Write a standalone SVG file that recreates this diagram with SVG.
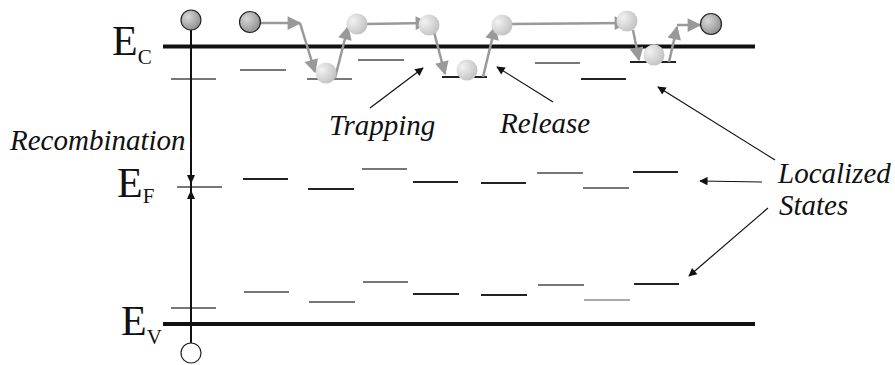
<svg xmlns="http://www.w3.org/2000/svg" width="895" height="365" viewBox="0 0 895 365">
<defs>
<radialGradient id="dark" cx="0.35" cy="0.35" r="0.75">
<stop offset="0" stop-color="#d8d8d8"/>
<stop offset="1" stop-color="#8a8a8a"/>
</radialGradient>
<radialGradient id="light" cx="0.3" cy="0.35" r="0.8">
<stop offset="0" stop-color="#f2f2f2"/>
<stop offset="1" stop-color="#bdbdbd"/>
</radialGradient>
<marker id="ga" viewBox="0 0 10 10" refX="9" refY="5" markerWidth="6" markerHeight="5.5" markerUnits="strokeWidth" orient="auto">
<path d="M0,0 L10,5 L0,10 z" fill="#999"/>
</marker>
<marker id="ka" viewBox="0 0 10 10" refX="9" refY="5" markerWidth="9" markerHeight="7" markerUnits="strokeWidth" orient="auto">
<path d="M0,0 L10,5 L0,10 z" fill="#111"/>
</marker>
</defs>
<style>
.band{stroke:#111;stroke-width:4}
.lv{stroke:#777;stroke-width:2}
.lk{stroke:#222;stroke-width:2}
.path{stroke:#999;stroke-width:2.5;fill:none;marker-end:url(#ga)}
.ptr{stroke:#111;stroke-width:1.2;fill:none;marker-end:url(#ka)}
.lbl{font-family:"Liberation Serif","Times New Roman",serif;font-style:italic;font-size:29px;fill:#111}
.E{font-family:"Liberation Serif","Times New Roman",serif;font-size:42px;fill:#111}
.sub{font-family:"Liberation Serif","Times New Roman",serif;font-size:21px;fill:#111}
.dk{fill:url(#dark);stroke:#222;stroke-width:1.2}
.lt{fill:url(#light)}
</style>
<g id="bands">
<line class="band" x1="163" y1="46.5" x2="755" y2="46.5"/>
<line class="band" x1="163" y1="324" x2="755" y2="324"/>
<text class="E" x="112" y="55">E<tspan class="sub" dy="9">C</tspan></text>
<text class="E" x="117" y="197">E<tspan class="sub" dy="6">F</tspan></text>
<text class="E" x="121" y="335">E<tspan class="sub" dy="9">V</tspan></text>
</g>
<g id="levels">
<line class="lv" x1="171" y1="79" x2="216" y2="79"/>
<line class="lv" x1="240" y1="70" x2="286" y2="70"/>
<line class="lv" x1="307" y1="79" x2="352" y2="79"/>
<line class="lv" x1="358" y1="60" x2="404" y2="60"/>
<line class="lk" x1="442" y1="77" x2="487" y2="77"/>
<line class="lv" x1="535" y1="63" x2="580" y2="63"/>
<line class="lk" x1="581" y1="79" x2="626" y2="79"/>
<line class="lk" x1="630" y1="62" x2="676" y2="62"/>
<line class="lv" x1="177" y1="187" x2="222" y2="187"/>
<line class="lk" x1="243" y1="179" x2="288" y2="179"/>
<line class="lk" x1="308" y1="189" x2="354" y2="189"/>
<line class="lv" x1="362" y1="169" x2="407" y2="169"/>
<line class="lk" x1="413" y1="182" x2="458" y2="182"/>
<line class="lk" x1="481" y1="183" x2="526" y2="183"/>
<line class="lv" x1="537" y1="173" x2="583" y2="173"/>
<line class="lv" x1="583" y1="188" x2="629" y2="188"/>
<line class="lk" x1="633" y1="172" x2="678" y2="172"/>
<line class="lv" x1="171" y1="308" x2="216" y2="308"/>
<line class="lv" x1="244" y1="292" x2="289" y2="292"/>
<line class="lv" x1="309" y1="302" x2="355" y2="302"/>
<line class="lv" x1="363" y1="282" x2="408" y2="282"/>
<line class="lk" x1="413" y1="294" x2="459" y2="294"/>
<line class="lk" x1="481" y1="295" x2="527" y2="295"/>
<line class="lv" x1="538" y1="285" x2="584" y2="285"/>
<line class="lv" x1="584" y1="300" x2="630" y2="300" style="stroke:#aaa"/>
<line class="lk" x1="634" y1="284" x2="679" y2="284"/>
</g>
<g id="recombination">
<line x1="191" y1="30" x2="191" y2="343" stroke="#111" stroke-width="2"/>
<path d="M187,175 L191,184 L195,175 z" fill="#111"/>
<path d="M187,199 L191,190 L195,199 z" fill="#111"/>
<circle class="dk" cx="191" cy="20" r="10"/>
<circle cx="191" cy="353" r="10" fill="#fff" stroke="#222" stroke-width="1.2"/>
<text class="lbl" x="10" y="150">Recombination</text>
</g>
<g id="connectors">
<polyline class="path" points="261,23 300,23"/>
<line class="path" x1="300" y1="23" x2="315" y2="72"/>
<line class="path" x1="335" y1="78" x2="348" y2="27"/>
<line class="path" x1="366" y1="24" x2="428" y2="23"/>
<line class="path" x1="434" y1="32" x2="445" y2="74"/>
<line class="path" x1="483" y1="77" x2="495" y2="27"/>
<line class="path" x1="512" y1="24" x2="627" y2="23"/>
<line class="path" x1="633" y1="30" x2="639" y2="60"/>
<line class="path" x1="669" y1="62" x2="677" y2="27"/>
<line class="path" x1="677" y1="25" x2="700" y2="25"/>
<line class="ptr" x1="370" y1="108" x2="423" y2="68"/>
<line class="ptr" x1="553" y1="102" x2="497" y2="67"/>
<line class="ptr" x1="775" y1="160" x2="658" y2="87"/>
<line class="ptr" x1="762" y1="182" x2="700" y2="181"/>
<line class="ptr" x1="768" y1="208" x2="689" y2="276"/>
</g>
<g id="electrons">
<circle class="dk" cx="250" cy="22" r="10.5"/>
<circle class="lt" cx="326" cy="73" r="10.5"/>
<circle class="lt" cx="357" cy="24" r="10.5"/>
<circle class="lt" cx="429" cy="25" r="10.5"/>
<circle class="lt" cx="467" cy="70" r="10.5"/>
<circle class="lt" cx="502" cy="25" r="10.5"/>
<circle class="lt" cx="627" cy="21" r="10.5"/>
<circle class="lt" cx="654" cy="55" r="10.5"/>
<circle class="dk" cx="711" cy="24" r="10.5"/>
</g>
<g id="labels">
<text class="lbl" x="329" y="135">Trapping</text>
<text class="lbl" x="500" y="133">Release</text>
<text class="lbl" x="778" y="183">Localized</text>
<text class="lbl" x="779" y="215">States</text>
</g>
</svg>
